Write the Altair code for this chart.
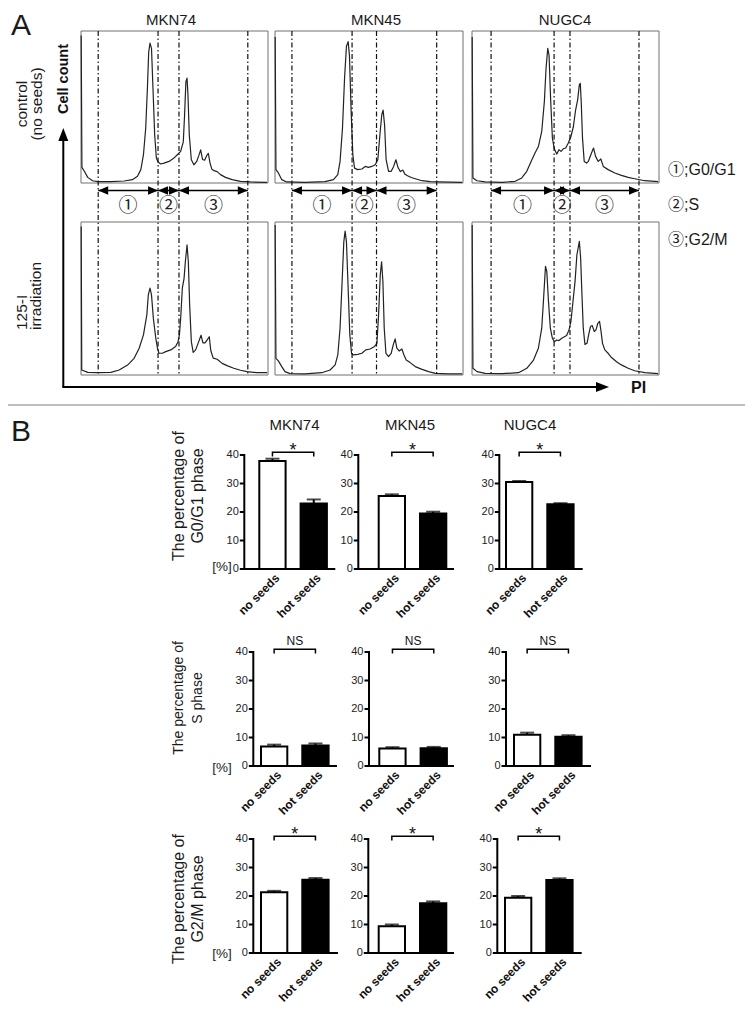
import altair as alt
import pandas as pd

# ------------------------------------------------------------------ data
CELL_LINES = ["MKN74", "MKN45", "NUGC4"]
GROUPS = ["no seeds", "hot seeds"]
Y_TICKS = [0, 10, 20, 30, 40]
SIGNIF = ["*", "NS", "*"]
PHASE_TITLES = [["The percentage of", "G0/G1 phase"],
                ["The percentage of", "S phase"],
                ["The percentage of", "G2/M phase"]]

# bar heights (%) and upper error (SEM) per cell line
G0G1_NO = [37.9, 25.6, 30.5]
G0G1_NO_ERR = [0.8, 0.6, 0.4]
G0G1_HOT = [23.0, 19.5, 22.7]
G0G1_HOT_ERR = [1.4, 0.6, 0.4]
S_NO = [6.8, 6.1, 11.0]
S_NO_ERR = [0.7, 0.5, 0.7]
S_HOT = [7.2, 6.2, 10.3]
S_HOT_ERR = [0.7, 0.5, 0.5]
G2M_NO = [21.3, 9.4, 19.4]
G2M_NO_ERR = [0.5, 0.6, 0.6]
G2M_HOT = [25.7, 17.5, 25.6]
G2M_HOT_ERR = [0.6, 0.6, 0.6]

# DNA histograms (PI channel 0-1000, relative cell count 0-100)
MKN74_CTRL_PI = [1, 5, 18, 36, 62, 89, 160, 231, 275, 302, 320, 334, 346, 355, 362, 369, 377, 385, 394, 403,
                 412, 426, 444, 471, 497, 515, 533, 547, 554, 561, 567, 572, 579, 590, 604, 618, 630, 640, 650, 661,
                 672, 681, 690, 700, 712, 728, 746, 773, 808, 853, 906, 995]
MKN74_CTRL_CNT = [97, 10.3, 7.7, 3.7, 1.5, 0.9, 0.9, 1.3, 2.2, 4.4, 8.8, 18.6, 36, 62, 86, 92, 88.6, 62, 31.7, 16.4,
                  13.8, 12.5, 13.1, 14.2, 16.4, 18.6, 20.8, 27, 45, 66.7, 69, 58, 31.7, 15.3, 12, 14, 18, 21.8, 15.5, 15,
                  18, 19.5, 13.1, 9, 8.1, 7.5, 5.5, 3.7, 2.2, 1.1, 0.7, 0.4]
MKN74_IRR_PI = [1, 4, 36, 89, 160, 204, 249, 284, 311, 334, 352, 360, 369, 377, 387, 400, 409, 417, 435, 453,
                480, 506, 519, 526, 533, 542, 551, 558, 567, 574, 581, 590, 600, 613, 630, 642, 652, 663, 675, 686,
                694, 707, 728, 755, 781, 817, 853, 888, 941, 995]
MKN74_IRR_CNT = [97, 3.3, 1.7, 1.5, 1.7, 3.3, 6.5, 10.9, 17.5, 26.2, 39.3, 52.4, 56.8, 52.4, 37, 24, 17.5, 14.2, 14.2, 15.3,
                 16.4, 18.6, 21.8, 26, 37, 57, 63, 74, 85, 74, 46, 21.8, 14.8, 16.4, 22, 26, 21, 21, 23, 25,
                 16, 11, 10.3, 7.6, 6.1, 4.4, 3.1, 2.2, 1.5, 1.5]
MKN45_CTRL_PI = [1, 5, 18, 36, 62, 160, 266, 311, 334, 346, 359, 370, 380, 389, 396, 405, 414, 423, 440, 462,
                 480, 497, 515, 533, 547, 558, 568, 575, 583, 591, 604, 618, 631, 643, 655, 667, 680, 690, 705, 725,
                 746, 782, 826, 870, 995]
MKN45_CTRL_CNT = [96, 8.8, 6.6, 2.2, 0.7, 0.4, 0.9, 2.2, 5.5, 14.2, 36, 69, 90, 93, 84, 47, 18.6, 9.8, 8.8, 9.2,
                  10.9, 10.3, 10.9, 12, 15.3, 31.7, 44.9, 48, 38, 15.3, 7.7, 7.7, 10.9, 15.3, 10, 7.5, 8.5, 6, 4.8, 3.6,
                  2.8, 1.5, 0.9, 0.7, 0.4]
MKN45_IRR_PI = [1, 5, 18, 36, 53, 80, 160, 249, 293, 320, 334, 346, 357, 366, 373, 380, 389, 398, 407, 417,
                440, 462, 483, 506, 529, 542, 551, 560, 567, 574, 581, 590, 604, 618, 629, 639, 648, 661, 675, 686,
                698, 719, 746, 782, 817, 853, 924, 995]
MKN45_IRR_CNT = [98, 10.9, 9.2, 5.5, 2.2, 0.9, 0.7, 1.5, 3.3, 6.6, 13.1, 30.6, 61, 87, 94, 87, 56.8, 26.2, 14.2, 13.1,
                 13.5, 14.2, 16.4, 17, 18.6, 20.7, 39.3, 65.5, 74, 61, 30.6, 14.2, 12, 14.2, 19.7, 23.6, 17.5, 15.7, 17, 13.1,
                 9.8, 8.1, 5.5, 3.7, 2.2, 1.1, 0.7, 0.7]
NUGC4_CTRL_PI = [1, 5, 27, 71, 160, 231, 266, 293, 316, 337, 355, 373, 387, 396, 405, 412, 421, 430, 440, 453,
                 465, 476, 488, 501, 515, 529, 542, 554, 565, 574, 579, 584, 591, 600, 613, 622, 639, 650, 661, 675,
                 689, 702, 728, 764, 799, 835, 870, 924, 995]
NUGC4_CTRL_CNT = [96, 3.3, 1.5, 0.7, 0.4, 1.1, 3.3, 7.7, 14.2, 19.7, 24, 34, 53.6, 75.5, 88.6, 84, 53.6, 29.5, 22.5, 19,
                  21.9, 20.8, 22.5, 23, 26.3, 30.6, 37, 48, 54.7, 64.6, 65.6, 53.6, 29.5, 14.2, 13.1, 14.2, 19.7, 23, 17.5, 14.2,
                  15.8, 10.9, 8.8, 6.6, 5, 3.7, 2.8, 1.5, 0.9]
NUGC4_IRR_PI = [1, 5, 27, 71, 160, 249, 293, 329, 355, 373, 384, 393, 400, 409, 419, 430, 440, 453, 465, 480,
                494, 506, 519, 529, 540, 551, 561, 574, 581, 588, 595, 604, 615, 625, 634, 643, 654, 663, 673, 682,
                689, 698, 710, 728, 746, 773, 799, 835, 870, 924, 995]
NUGC4_IRR_CNT = [98, 4.4, 2.2, 1.1, 0.9, 1.5, 4.4, 9.8, 17.5, 30.6, 52.4, 71, 67.7, 48, 30.6, 24, 21.8, 22.9, 22.5, 24,
                 25, 25.8, 29.5, 35, 48, 61, 78.6, 87.3, 76.4, 52.4, 30.6, 20, 20.7, 27, 31.7, 32.3, 28.4, 29.5, 33.8, 35,
                 29.5, 20.7, 16.4, 14.2, 11.4, 8.7, 6.6, 4.4, 2.8, 1.5, 0.9]

GATES_MKN74 = [92, 412, 524, 892]
GATES_MKN45 = [90, 410, 540, 860]
GATES_NUGC4 = [102, 439, 524, 893]
PHASE_MARKS = ["①", "②", "③"]
LEGEND_LINES = ["①;G0/G1", "②;S", "③;G2/M"]

# ------------------------------------------------------------------ layout (page pixels)
M = 8
W, H = 737, 997


def X(p):
    return p - M


def Y(p):
    return p - M


FONT = "Liberation Sans"
CJK = "Liberation Sans, Noto Sans CJK JP"
HIST_COLS = [(81, 268), (275, 463), (472, 659)]
HIST_TOP = (183, 31)
HIST_BOT = (375, 222)
ARROW_Y = 190.5
NUM_Y = 206
COL_TITLE_X = [171, 376, 565]

BAR_ROWS_Y = [(569, 455), (766, 652), (953, 839)]
# (y-axis x, x-axis end, first bar left edge) per panel
BAR_GEOM = [[(244.3, 334.3, 259.3), (358.3, 453, 378.7), (499.3, 581.7, 506)],
            [(253.3, 336, 261), (369, 453, 379.3), (506, 590, 514)],
            [(253.3, 337, 261), (368.3, 453, 378.7), (497.3, 580.7, 505)]]
BAND_W, BAND_STEP = 26.3, 41.3
BR_LO, BR_HI = 39.5, 41.0
SIG_Y = [39.7, 42.4, 39.7]
XLAB_DY = 7

HEAD_R = "M0,0L-2,-0.85L-2,0.85Z"
HEAD_L = "M0,0L2,-0.85L2,0.85Z"
BIG_UP = "M0,0L-1,2.6L1,2.6Z"
BIG_RIGHT = "M0,0L-2.6,-1L-2.6,1Z"

ONE = pd.DataFrame({"k": [0]})


def label(text, x, y, size, **kw):
    opts = dict(font=FONT, fontSize=size, color="#1a1a1a")
    opts.update(kw)
    return alt.Chart(ONE).mark_text(**opts).encode(
        x=alt.value(X(x)), y=alt.value(Y(y)), text=alt.value(text))


def hist_panel(pi, cnt, xr, yr):
    xs = alt.Scale(domain=[0, 1000], range=[X(xr[0]), X(xr[1])], nice=False, zero=False)
    ys = alt.Scale(domain=[0, 100], range=[Y(yr[0]), Y(yr[1])], nice=False, zero=False)
    frame = alt.Chart(pd.DataFrame({"x0": [0], "x1": [1000], "y0": [0], "y1": [100]})).mark_rect(
        fill="white", fillOpacity=0, stroke="#707070", strokeWidth=1).encode(
        x=alt.X("x0:Q", scale=xs, axis=None), x2="x1:Q",
        y=alt.Y("y0:Q", scale=ys, axis=None), y2="y1:Q")
    curve = alt.Chart(pd.DataFrame({"pi": pi, "cnt": cnt})).mark_line(
        color="#222", strokeWidth=1.2, strokeJoin="round").encode(
        x=alt.X("pi:Q", scale=xs, axis=None), y=alt.Y("cnt:Q", scale=ys, axis=None))
    return alt.layer(frame, curve)


def gate_panel(gates, xr):
    xs = alt.Scale(domain=[0, 1000], range=[X(xr[0]), X(xr[1])], nice=False, zero=False)
    gx = alt.X("g:Q", scale=xs, axis=None)
    rules = alt.Chart(pd.DataFrame({"g": gates})).mark_rule(
        color="#111", strokeWidth=1.2, strokeDash=[5, 2.5, 1.5, 2.5]).encode(
        x=gx, y=alt.value(Y(HIST_TOP[1])), y2=alt.value(Y(HIST_BOT[0])))
    seg = alt.Chart(pd.DataFrame({"a": gates[:-1], "b": gates[1:], "lab": PHASE_MARKS}))
    ay = alt.value(Y(ARROW_Y))
    shafts = seg.mark_rule(color="black", strokeWidth=1.6).encode(
        x=alt.X("a:Q", scale=xs, axis=None), x2="b:Q", y=ay)
    lheads = seg.mark_point(shape=HEAD_L, size=100, filled=True, color="black", opacity=1,
                            strokeWidth=0).encode(x=alt.X("a:Q", scale=xs, axis=None), y=ay)
    rheads = seg.mark_point(shape=HEAD_R, size=100, filled=True, color="black", opacity=1,
                            strokeWidth=0).encode(x=alt.X("b:Q", scale=xs, axis=None), y=ay)
    nums = seg.transform_calculate(mid="(datum.a + datum.b) / 2").mark_text(
        font=CJK, fontSize=19, color="#222", baseline="middle").encode(
        x=alt.X("mid:Q", scale=xs, axis=None), y=alt.value(Y(NUM_Y)), text="lab:N")
    return alt.layer(rules, shafts, lheads, rheads, nums)


def band_params(r0, r1, left):
    pin = 1 - BAND_W / BAND_STEP
    used = BAND_STEP * (2 - pin)
    pout = max(0.0, ((r1 - r0) / BAND_STEP - (2 - pin)) / 2)
    align = min(1.0, max(0.0, (left - r0) / max(1e-6, (r1 - r0) - used)))
    step = (r1 - r0) / max(1, 2 - pin + 2 * pout)
    start = r0 + ((r1 - r0) - step * (2 - pin)) * align
    bw = step * (1 - pin)
    centers = [start + bw / 2, start + step + bw / 2]
    return pin, pout, align, centers


def bar_panel(vals, errs, sig, sig_y, geom, yr):
    ax, aend, left = geom
    pin, pout, align, centers = band_params(X(ax), X(aend), X(left))
    df = pd.DataFrame({"group": GROUPS, "value": vals, "err": errs})
    xs = alt.Scale(domain=GROUPS, range=[X(ax), X(aend)], paddingInner=pin, paddingOuter=pout,
                   align=align)
    ys = alt.Scale(domain=[0, 40], range=[Y(yr[0]), Y(yr[1])], nice=False, zero=True)
    gx = alt.X("group:N", scale=xs, axis=None)
    base = alt.Chart(df)
    bars = base.mark_bar(stroke="black", strokeWidth=2).encode(
        x=gx, y=alt.Y("value:Q", scale=ys, axis=None),
        fill=alt.condition(alt.datum.group == GROUPS[0], alt.value("white"), alt.value("black")))
    withup = base.transform_calculate(upper="datum.value + datum.err")
    err_rule = withup.mark_rule(color="black", strokeWidth=2).encode(
        x=gx, y=alt.Y("value:Q", scale=ys, axis=None), y2="upper:Q")
    err_cap = withup.mark_tick(color="black", thickness=2, size=14).encode(
        x=gx, y=alt.Y("upper:Q", scale=ys, axis=None))
    bracket = alt.Chart(pd.DataFrame({"group": [GROUPS[0], GROUPS[0], GROUPS[1], GROUPS[1]],
                                      "by": [BR_LO, BR_HI, BR_HI, BR_LO], "o": [0, 1, 2, 3]})).mark_line(
        color="black", strokeWidth=1.5).encode(
        x=gx, y=alt.Y("by:Q", scale=ys, axis=None), order="o:Q")
    mid = (centers[0] + centers[1]) / 2
    star = sig == "*"
    sig_text = alt.Chart(pd.DataFrame({"t": [sig], "ty": [sig_y]})).mark_text(
        font=FONT, fontSize=18 if star else 12, color="#111", baseline="alphabetic").encode(
        x=alt.value(mid), y=alt.Y("ty:Q", scale=ys, axis=None), text="t:N")
    # axes drawn with the panel's own scales
    ticks_df = pd.DataFrame({"t": Y_TICKS})
    y_dom = alt.Chart(pd.DataFrame({"a": [Y_TICKS[0]], "b": [Y_TICKS[-1]]})).mark_rule(
        color="black", strokeWidth=2, strokeCap="square").encode(
        x=alt.value(X(ax)), y=alt.Y("a:Q", scale=ys, axis=None), y2="b:Q")
    y_ticks = alt.Chart(ticks_df).mark_rule(color="black", strokeWidth=2).encode(
        x=alt.value(X(ax) - 4.5), x2=alt.value(X(ax)), y=alt.Y("t:Q", scale=ys, axis=None))
    y_labels = alt.Chart(ticks_df).mark_text(
        font=FONT, fontSize=11, color="#222", align="right", baseline="middle").encode(
        x=alt.value(X(ax) - 5.5), y=alt.Y("t:Q", scale=ys, axis=None), text=alt.Text("t:Q", format="d"))
    x_dom = alt.Chart(pd.DataFrame({"a": [0]})).mark_rule(
        color="black", strokeWidth=2, strokeCap="square").encode(
        x=alt.value(X(ax)), x2=alt.value(X(aend)), y=alt.Y("a:Q", scale=ys, axis=None))
    x_labels = base.mark_text(font=FONT, fontSize=12, fontWeight="bold", color="#111", angle=315,
                              align="right", baseline="middle", xOffset=5).encode(
        x=gx, y=alt.value(Y(yr[0]) + XLAB_DY), text="group:N")
    return alt.layer(bars, err_rule, err_cap, bracket, sig_text, y_dom, y_ticks, y_labels, x_dom,
                     x_labels)


layers = []

# ---------------- panel A
hist_data = [(MKN74_CTRL_PI, MKN74_CTRL_CNT, MKN74_IRR_PI, MKN74_IRR_CNT, GATES_MKN74),
             (MKN45_CTRL_PI, MKN45_CTRL_CNT, MKN45_IRR_PI, MKN45_IRR_CNT, GATES_MKN45),
             (NUGC4_CTRL_PI, NUGC4_CTRL_CNT, NUGC4_IRR_PI, NUGC4_IRR_CNT, GATES_NUGC4)]
for i, (cpi, ccnt, ipi, icnt, gates) in enumerate(hist_data):
    xr = HIST_COLS[i]
    layers.append(hist_panel(cpi, ccnt, xr, HIST_TOP))
    layers.append(hist_panel(ipi, icnt, xr, HIST_BOT))
    layers.append(gate_panel(gates, xr))
    layers.append(label(CELL_LINES[i], COL_TITLE_X[i], 19.5, 15, align="center", baseline="middle"))

layers.append(label("A", 11, 35, 30, align="left", baseline="alphabetic"))
layers.append(label(["control", "(no seeds)"], 22, 104, 15.5, angle=270, align="center",
                    baseline="middle", lineHeight=15))
layers.append(label(["125-I", "irradiation"], 21.5, 330, 15.5, angle=270, align="left",
                    baseline="middle", lineHeight=14))
layers.append(label("Cell count", 63.5, 79, 14.5, angle=270, align="center", baseline="middle",
                    fontWeight="bold", color="#111"))
for k, txt in enumerate(LEGEND_LINES):
    layers.append(label(txt, 668, [170, 204.5, 240][k], 16, font=CJK, align="left", baseline="middle"))

# big L-shaped axis with arrow heads
layers.append(alt.Chart(ONE).mark_rule(color="black", strokeWidth=2).encode(
    x=alt.value(X(63.3)), y=alt.value(Y(387)), y2=alt.value(Y(135))))
layers.append(alt.Chart(ONE).mark_rule(color="black", strokeWidth=2).encode(
    x=alt.value(X(62.3)), x2=alt.value(X(602)), y=alt.value(Y(387))))
layers.append(alt.Chart(ONE).mark_point(shape=BIG_UP, size=100, filled=True, color="black",
                                        opacity=1, strokeWidth=0).encode(
    x=alt.value(X(63.3)), y=alt.value(Y(128))))
layers.append(alt.Chart(ONE).mark_point(shape=BIG_RIGHT, size=100, filled=True, color="black",
                                        opacity=1, strokeWidth=0).encode(
    x=alt.value(X(609)), y=alt.value(Y(387))))
layers.append(label("PI", 631, 388, 16, align="left", baseline="middle", fontWeight="bold", color="#111"))

# separator
layers.append(alt.Chart(ONE).mark_rule(color="#a8a8a8", strokeWidth=1.6).encode(
    x=alt.value(0), x2=alt.value(W), y=alt.value(Y(405))))

# ---------------- panel B
layers.append(label("B", 11, 441, 30, align="left", baseline="alphabetic"))
for i, name in enumerate(CELL_LINES):
    layers.append(label(name, [294.5, 410, 530][i], 425, 15, align="center", baseline="middle"))

phase_vals = [(G0G1_NO, G0G1_NO_ERR, G0G1_HOT, G0G1_HOT_ERR),
              (S_NO, S_NO_ERR, S_HOT, S_HOT_ERR),
              (G2M_NO, G2M_NO_ERR, G2M_HOT, G2M_HOT_ERR)]
title_y = [496, 698, 899]
title_size = [16, 14, 16]
pct_y = [567, 767.5, 954]
for r, (no, no_e, hot, hot_e) in enumerate(phase_vals):
    for c in range(3):
        layers.append(bar_panel([no[c], hot[c]], [no_e[c], hot_e[c]], SIGNIF[r], SIG_Y[r],
                                BAR_GEOM[r][c], BAR_ROWS_Y[r]))
    layers.append(label(PHASE_TITLES[r], 178.5, title_y[r], title_size[r], angle=270, align="center",
                        baseline="middle", lineHeight=19))
    layers.append(label("[%]", 222, pct_y[r], 13.5, align="center", baseline="middle"))

chart = alt.layer(*layers).resolve_scale(x="independent", y="independent").properties(
    width=W, height=H, padding=0, autosize=alt.AutoSizeParams(type="none")
).configure_view(strokeWidth=0)

chart.save("out.html", embed_options={"renderer": "svg", "actions": False})
